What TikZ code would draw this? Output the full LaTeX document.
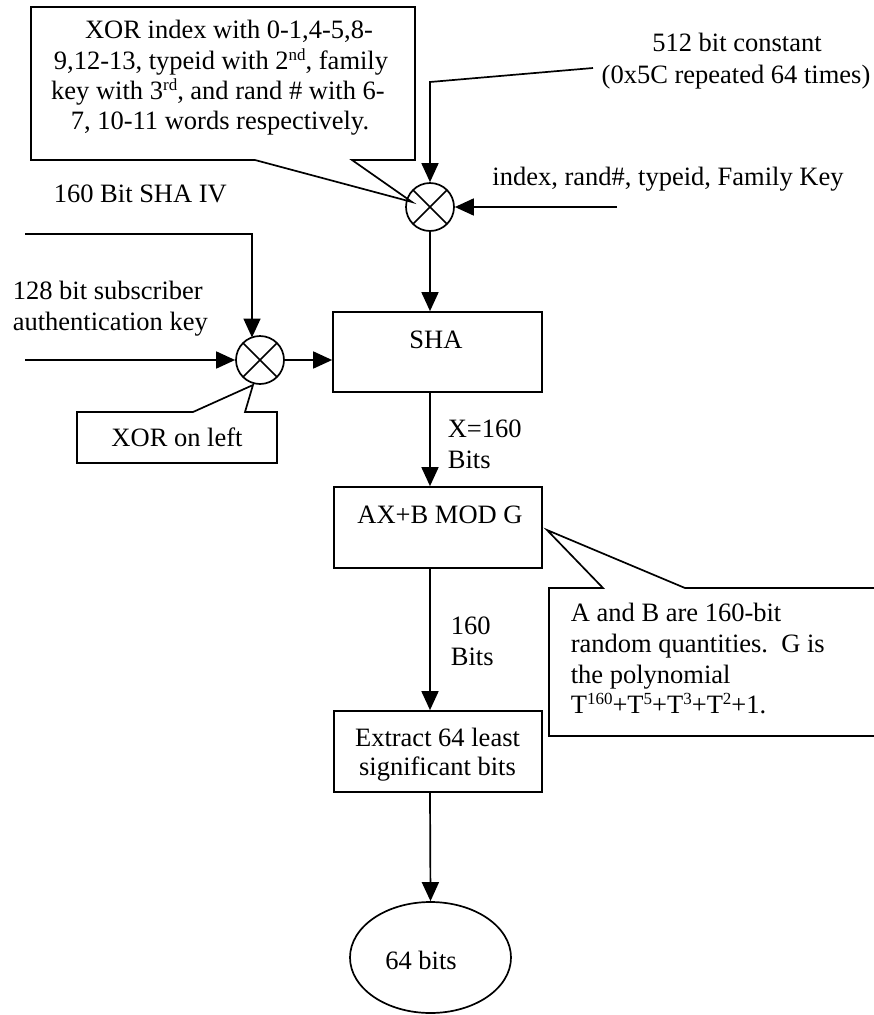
\documentclass[tikz,border=0pt]{standalone}
\usepackage{fontspec}
\setmainfont{Liberation Serif}
\usetikzlibrary{arrows.meta,shapes.geometric,calc}
\newcommand\supx[1]{\raisebox{0.33em}{\fontsize{17}{17}\selectfont #1}}
\begin{document}
\begin{tikzpicture}[x=1pt,y=-1pt, line width=1.7pt,
  every node/.style={font=\fontsize{26.5}{30.5}\selectfont, inner sep=0pt},
  txt/.style={anchor=base},
  txtl/.style={anchor=base west},
  box/.style={draw, rectangle, inner sep=0pt},
  arr/.style={-{Triangle[length=19pt,width=17pt]}},
  callout/.style={draw, fill=white, line join=miter},
  xorsym/.style={circle, draw, minimum size=48pt, inner sep=0pt,
    path picture={\draw[line width=1.5pt]
      ([shift={(45:24pt)}]path picture bounding box.center) -- ([shift={(225:24pt)}]path picture bounding box.center)
      ([shift={(135:24pt)}]path picture bounding box.center) -- ([shift={(-45:24pt)}]path picture bounding box.center);}}
]
\fill[white] (0,0) rectangle (874,1015);
\useasboundingbox (0,0) rectangle (874,1015);

% callouts
\draw[callout] (31,7) -- (415,7) -- (415,160) -- (352,160) -- (412,202) -- (255,160) -- (31,160) -- cycle;
\draw[callout] (77,412) -- (193,412) -- (253,385) -- (245,412) -- (277,412) -- (277,463) -- (77,463) -- cycle;
\begin{scope}
\clip (0,0) rectangle (874,1015);
\draw[callout] (549,588) -- (603,588) -- (547,530) -- (685,588) -- (900,588) -- (900,736) -- (549,736) -- cycle;
\end{scope}

% main shapes
\node[box, minimum width=209pt, minimum height=80pt] (sha) at (437.5,352) {};
\node[box, minimum width=208pt, minimum height=81pt] (ax) at (438,527.5) {};
\node[box, minimum width=208pt, minimum height=81pt] (ext) at (438,751.5) {};
\node[ellipse, draw, minimum width=161pt, minimum height=111pt] (out) at (430.5,957.5) {};
\node[xorsym] (xorT) at (430,207) {};
\node[xorsym] (xorL) at (260,360) {};

% connectors
\coordinate (cst) at (593,68);
\coordinate (cstc) at (430,82);
\draw[arr] (cst) -- (cstc) -- (xorT.north);
\coordinate (fam) at (617,207);
\draw[arr] (fam) -- (xorT.east);
\draw[arr] (xorT.south) -- (sha.north -| xorT);
\coordinate (iv) at (25,234);
\coordinate (ivd) at (252,337.5);
\draw[arr] (iv) -| (ivd);
\coordinate (key) at (25,360);
\draw[arr] (key) -- (xorL.west);
\draw[arr] (xorL.east) -- (sha.west |- xorL.east);
\draw[arr] (sha.south -| xorT) -- (ax.north -| xorT);
\draw[arr] (ax.south -| xorT) -- (ext.north -| xorT);
\draw[arr] (ext.south -| xorT) -- (out.north);

% texts
\node[txt] (c1) at (229,38) {XOR index with 0-1,4-5,8-};
\node[txt] (c2) at (221,69) {9,12-13, typeid with 2\supx{nd}, family};
\node[txt] (c3) at (218,99) {key with 3\supx{rd}, and rand \# with 6-};
\node[txt] (c4) at (220,129) {7, 10-11 words respectively.};
\node[txt] (k1) at (737,51) {512 bit constant};
\node[txt] (k2) at (736,83) {(0x5C repeated 64 times)};
\node[txt] (f1) at (668,185) {index, rand\#, typeid, Family Key};
\node[txtl] (iv1) at (53,202) {160 Bit SHA IV};
\node[txtl] (s1) at (12,299) {128 bit subscriber};
\node[txtl] (s2) at (12,330) {authentication key};
\node[txt] (shat) at (436,348) {SHA};
\node[txt] (xl) at (177,446) {XOR on left};
\node[txtl] (x1) at (447,437) {X=160};
\node[txtl] (x2) at (447,468) {Bits};
\node[txt] (axt) at (440,523) {AX+B MOD G};
\node[txtl] (b1) at (450,634) {160};
\node[txtl] (b2) at (450,665) {Bits};
\node[txtl] (r1) at (570,621) {A and B are 160-bit};
\node[txtl] (r2) at (570,652) {random quantities.\ \ G is};
\node[txtl] (r3) at (570,683) {the polynomial};
\node[txtl] (r4) at (570,713) {T\supx{160}+T\supx{5}+T\supx{3}+T\supx{2}+1.};
\node[txt] (e1) at (437.5,746) {Extract 64 least};
\node[txt] (e2) at (437.5,775) {significant bits};
\node[txt] (ot) at (421,969) {64 bits};
\end{tikzpicture}
\end{document}
